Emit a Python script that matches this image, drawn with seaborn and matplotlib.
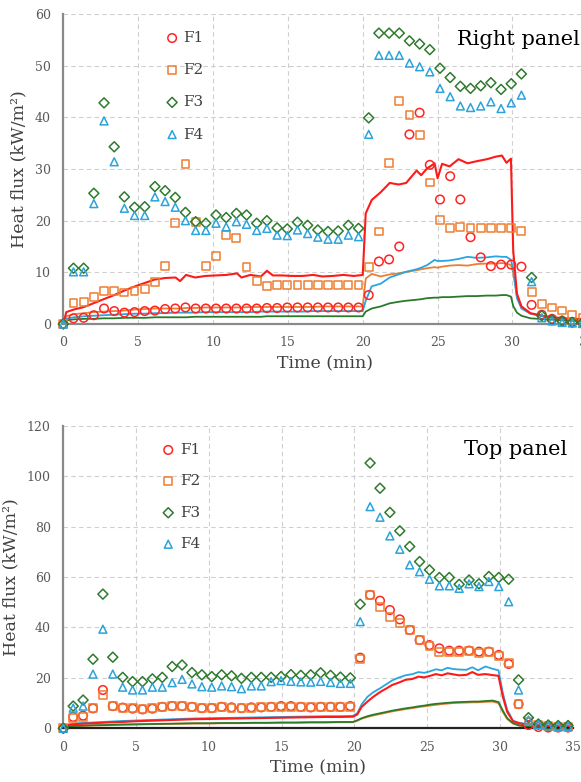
import numpy as np
import pandas as pd
import matplotlib
matplotlib.use("Agg")
import matplotlib.pyplot as plt
import seaborn as sns

# ---------------- data ----------------
sensors = ["F1", "F2", "F3", "F4"]

marker_time = [0.00, 0.68, 1.36, 2.04, 2.72, 3.40, 4.08, 4.76, 5.44, 6.12,
               6.80, 7.48, 8.16, 8.84, 9.52, 10.20, 10.88, 11.56, 12.24, 12.92,
               13.60, 14.28, 14.96, 15.64, 16.32, 17.00, 17.68, 18.36, 19.04, 19.72,
               20.40, 21.08, 21.76, 22.44, 23.12, 23.80, 24.48, 25.16, 25.84, 26.52,
               27.20, 27.88, 28.56, 29.24, 29.92, 30.60, 31.28, 31.96, 32.64, 33.32,
               34.00, 34.68]

# Right panel - markers
right_f1 = [0, 1.1, 1.2, 1.7, 3.0, 2.5, 2.2, 2.3, 2.5, 2.6,
            2.9, 3.0, 3.2, 3.0, 3.0, 3.0, 3.0, 3.0, 3.0, 3.0,
            3.1, 3.1, 3.2, 3.2, 3.2, 3.2, 3.2, 3.2, 3.2, 3.2,
            5.6, 12.1, 12.5, 15.0, 36.7, 40.9, 30.8, 24.1, 28.6, 24.1,
            16.8, 12.9, 11.2, 11.5, 11.5, 11.1, 3.7, 1.8, 1.0, 0.6,
            0.4, 0.3]
right_f2 = [0, 4.0, 4.2, 5.3, 6.4, 6.4, 6.1, 6.4, 6.8, 8.1,
            11.3, 19.5, 30.9, 19.8, 11.2, 13.2, 17.3, 16.7, 11.1, 8.4,
            7.3, 7.5, 7.5, 7.5, 7.5, 7.5, 7.5, 7.5, 7.5, 7.5,
            11.0, 17.9, 31.2, 43.1, 40.4, 36.5, 27.4, 20.1, 18.6, 18.7,
            18.6, 18.6, 18.6, 18.5, 18.6, 18.0, 6.2, 3.9, 3.2, 2.6,
            1.7, 1.2]
right_f3 = [0, 10.8, 10.8, 25.3, 42.8, 34.3, 24.6, 22.6, 22.7, 26.6,
            25.8, 24.5, 21.6, 19.8, 19.5, 21.1, 20.6, 21.4, 21.1, 19.5,
            20.0, 18.6, 18.4, 19.7, 19.1, 18.2, 17.9, 18.0, 19.1, 18.5,
            39.9, 56.3, 56.3, 56.3, 54.8, 54.2, 53.1, 49.5, 47.7, 46.0,
            45.6, 46.1, 46.7, 45.4, 46.5, 48.4, 9.0, 1.6, 0.8, 0.6,
            0.3, 0.2]
right_f4 = [0, 10.1, 10.1, 23.3, 39.3, 31.4, 22.4, 21.0, 21.0, 24.6,
            23.7, 22.6, 20.0, 18.1, 18.1, 19.5, 18.8, 19.8, 19.3, 18.1,
            18.5, 17.2, 17.1, 18.2, 17.5, 16.8, 16.4, 16.4, 17.2, 16.9,
            36.7, 52.0, 52.0, 52.0, 50.5, 49.8, 48.8, 45.6, 44.0, 42.2,
            41.9, 42.2, 43.0, 41.7, 42.8, 44.3, 8.2, 1.2, 0.6, 0.3,
            0.2, 0.1]

# Right panel - continuous lines
right_line_time = [0, 0.2, 0.7, 1.4, 2.0, 2.7, 3.4, 4.1, 4.8, 5.5,
                   6.1, 6.8, 7.5, 7.8, 8.2, 8.8, 9.5, 10.2, 10.9, 11.6,
                   11.9, 12.5, 13.2, 13.6, 14.0, 14.6, 15.3, 16.0, 16.7, 17.3,
                   18.0, 18.7, 19.4, 20.0, 20.2, 20.6, 21.2, 21.8, 22.4, 22.9,
                   23.6, 23.9, 24.3, 24.8, 25.0, 25.3, 25.8, 26.4, 27.0, 27.6,
                   28.3, 28.9, 29.3, 29.6, 29.9, 30.05, 30.3, 30.6, 31.2, 32.3,
                   33.5, 35.0]
right_line_f1 = [0, 2.3, 2.8, 3.3, 4.0, 4.8, 5.6, 6.5, 7.3, 8.0,
                 8.6, 8.9, 9.0, 8.3, 9.5, 9.0, 9.3, 9.4, 9.5, 9.8,
                 9.0, 9.5, 9.2, 10.3, 9.4, 9.4, 9.3, 9.3, 9.5, 9.2,
                 9.3, 9.5, 9.3, 9.5, 21.4, 24.0, 25.5, 27.3, 27.0, 27.3,
                 29.7, 28.8, 30.1, 31.1, 28.2, 31.0, 30.5, 31.9, 31.1, 31.5,
                 31.9, 32.4, 32.6, 31.2, 32.0, 14.3, 5.9, 3.4, 2.1, 1.4,
                 1.1, 0.9]
right_line_f2 = [0, 1.5, 1.9, 2.1, 2.3, 2.4, 2.5, 2.6, 2.8, 2.9,
                 3.0, 3.0, 3.0, 3.0, 3.1, 3.1, 3.2, 3.2, 3.2, 3.2,
                 3.2, 3.3, 3.3, 3.3, 3.3, 3.3, 3.3, 3.3, 3.3, 3.4,
                 3.4, 3.4, 3.4, 3.4, 8.8, 9.7, 9.2, 9.6, 9.8, 10.1,
                 10.4, 10.6, 10.8, 11.0, 10.9, 11.1, 11.3, 11.4, 11.3, 11.6,
                 11.7, 11.7, 11.8, 11.7, 11.4, 10.0, 5.5, 3.3, 2.0, 1.4,
                 1.0, 0.8]
right_line_f3 = [0, 0.7, 0.9, 1.0, 1.0, 1.1, 1.1, 1.2, 1.2, 1.2,
                 1.3, 1.3, 1.3, 1.3, 1.3, 1.4, 1.4, 1.4, 1.4, 1.4,
                 1.4, 1.4, 1.4, 1.5, 1.5, 1.5, 1.5, 1.5, 1.5, 1.5,
                 1.5, 1.5, 1.5, 1.5, 2.4, 3.0, 3.4, 4.0, 4.3, 4.5,
                 4.7, 4.8, 5.0, 5.1, 5.1, 5.2, 5.2, 5.3, 5.4, 5.4,
                 5.5, 5.5, 5.6, 5.6, 5.3, 3.5, 2.2, 1.6, 1.1, 0.9,
                 0.7, 0.5]
right_line_f4 = [0, 1.0, 1.3, 1.5, 1.6, 1.7, 1.8, 1.9, 2.0, 2.0,
                 2.1, 2.1, 2.2, 2.2, 2.2, 2.2, 2.3, 2.3, 2.3, 2.3,
                 2.3, 2.3, 2.4, 2.4, 2.4, 2.4, 2.4, 2.4, 2.5, 2.5,
                 2.5, 2.5, 2.5, 2.5, 4.5, 7.3, 7.8, 9.0, 9.6, 10.1,
                 10.6, 10.9, 11.4, 12.4, 12.2, 12.2, 12.3, 12.6, 13.0, 12.8,
                 12.9, 13.1, 13.0, 13.0, 12.4, 10.5, 5.0, 3.0, 2.0, 1.4,
                 1.0, 0.8]

# Top panel - markers
top_f1 = [0, 4.5, 5.0, 7.9, 15.2, 8.8, 8.2, 7.8, 7.5, 7.8,
          8.5, 8.8, 8.8, 8.5, 8.0, 8.0, 8.5, 8.3, 8.0, 8.3,
          8.3, 8.5, 8.8, 8.8, 8.5, 8.3, 8.5, 8.5, 8.5, 8.8,
          28.0, 52.9, 50.6, 46.9, 43.2, 39.0, 35.0, 33.0, 31.7, 30.8,
          30.8, 30.8, 30.4, 30.4, 29.1, 25.5, 9.6, 1.3, 0.5, 0.3,
          0.3, 0.3]
top_f2 = [0, 4.2, 4.5, 7.9, 13.2, 8.8, 8.2, 7.9, 7.6, 7.9,
          8.5, 8.8, 8.7, 8.4, 8.0, 7.9, 8.4, 8.2, 7.9, 8.2,
          8.3, 8.5, 8.6, 8.6, 8.4, 8.3, 8.5, 8.4, 8.5, 8.6,
          27.5, 52.9, 48.0, 44.3, 41.7, 39.0, 35.0, 32.6, 30.4, 30.4,
          30.4, 30.8, 29.8, 30.1, 28.8, 25.8, 9.6, 2.7, 1.3, 0.8,
          0.5, 0.5]
top_f3 = [0, 8.8, 11.2, 27.4, 53.2, 28.2, 20.2, 18.5, 18.5, 19.6,
          20.2, 24.5, 25.1, 22.1, 21.2, 20.5, 21.2, 20.8, 19.8, 20.2,
          20.2, 20.2, 20.5, 21.3, 21.0, 21.2, 22.0, 21.0, 20.3, 20.0,
          49.2, 105.2, 95.2, 85.6, 78.3, 72.1, 66.1, 62.8, 59.8, 59.8,
          57.1, 58.8, 57.3, 60.2, 59.8, 59.1, 19.2, 4.2, 1.7, 1.3,
          1.1, 1.1]
top_f4 = [0, 8.0, 8.8, 21.5, 39.3, 21.5, 16.3, 15.2, 15.2, 16.3,
          16.3, 18.1, 19.4, 17.6, 16.5, 16.3, 16.8, 16.5, 15.7, 16.8,
          16.8, 18.5, 18.9, 18.6, 18.4, 18.3, 18.6, 18.2, 17.8, 17.8,
          42.3, 87.9, 83.7, 76.3, 71.0, 64.8, 62.1, 59.1, 56.5, 56.5,
          55.5, 57.3, 56.2, 58.2, 56.2, 50.2, 15.2, 3.3, 1.5, 1.0,
          0.8, 0.8]

# Top panel - continuous lines
top_line_time = [0, 0.3, 1.0, 2.0, 3.0, 4.0, 5.0, 6.0, 7.0, 8.0,
                 9.0, 10.0, 11.0, 12.0, 13.0, 14.0, 15.0, 16.0, 17.0, 18.0,
                 19.0, 19.9, 20.2, 20.5, 20.9, 21.3, 21.8, 22.2, 22.6, 23.0,
                 23.5, 24.0, 24.4, 24.8, 25.2, 25.6, 26.0, 26.4, 26.8, 27.2,
                 27.7, 28.1, 28.5, 29.0, 29.5, 29.9, 30.2, 30.5, 30.9, 31.3,
                 31.8, 32.5, 33.5, 35.0]
top_line_f1 = [0, 1.3, 1.7, 2.0, 2.3, 2.5, 2.8, 3.0, 3.2, 3.4,
               3.6, 3.7, 3.8, 3.9, 4.0, 4.1, 4.2, 4.3, 4.4, 4.5,
               4.5, 4.6, 5.5, 8.5, 10.6, 12.5, 14.5, 15.8, 17.2, 18.0,
               19.2, 19.6, 20.5, 20.2, 20.8, 21.5, 21.0, 21.8, 21.4, 21.0,
               21.2, 22.3, 21.2, 21.5, 21.1, 20.8, 12.5, 6.5, 2.8, 2.0,
               1.5, 1.2, 0.9, 0.7]
top_line_f2 = [0, 0.7, 0.9, 1.1, 1.2, 1.4, 1.5, 1.6, 1.7, 1.8,
               1.9, 1.9, 2.0, 2.0, 2.1, 2.1, 2.2, 2.2, 2.3, 2.3,
               2.4, 2.4, 3.0, 3.8, 4.5, 5.1, 5.7, 6.2, 6.7, 7.1,
               7.6, 8.0, 8.4, 8.7, 9.0, 9.3, 9.6, 9.8, 10.0, 10.1,
               10.2, 10.3, 10.3, 10.5, 10.6, 10.0, 6.5, 3.7, 1.9, 1.1,
               0.7, 0.5, 0.4, 0.3]
top_line_f3 = [0, 0.8, 1.0, 1.2, 1.3, 1.5, 1.6, 1.7, 1.8, 1.9,
               2.0, 2.0, 2.1, 2.1, 2.2, 2.2, 2.3, 2.3, 2.4, 2.4,
               2.5, 2.5, 3.2, 4.0, 4.8, 5.4, 6.0, 6.5, 7.0, 7.4,
               7.9, 8.3, 8.7, 9.0, 9.4, 9.7, 9.9, 10.1, 10.3, 10.4,
               10.5, 10.6, 10.6, 10.8, 11.0, 10.4, 7.0, 4.0, 2.0, 1.2,
               0.8, 0.6, 0.5, 0.4]
top_line_f4 = [0, 1.5, 2.0, 2.3, 2.6, 2.9, 3.1, 3.3, 3.5, 3.7,
               3.9, 4.0, 4.1, 4.2, 4.3, 4.4, 4.5, 4.6, 4.7, 4.8,
               4.8, 4.9, 6.0, 9.5, 12.5, 14.3, 16.0, 17.5, 19.0, 20.0,
               21.0, 21.5, 22.3, 22.0, 22.6, 23.4, 23.0, 24.0, 23.5, 23.3,
               23.2, 24.2, 23.0, 24.5, 23.6, 23.0, 14.0, 7.3, 3.0, 2.2,
               1.7, 1.3, 1.0, 0.8]

x_ticks = [0, 5, 10, 15, 20, 25, 30, 35]
right_y_ticks = [0, 10, 20, 30, 40, 50, 60]
top_y_ticks = [0, 20, 40, 60, 80, 100, 120]

# ---------------- styling ----------------
sns.set_theme(style="white")
plt.rcParams["font.family"] = ["DejaVu Serif", "DejaVu Sans"]

mark_col = {"F1": "#FF2323", "F2": "#ED7D31", "F3": "#2E7A2E", "F4": "#2BA3DB"}
line_col = {"F1": "#FF1A1A", "F2": "#ED7D31", "F3": "#2A7A2A", "F4": "#2AA5E0"}
mark_shape = {"F1": "o", "F2": "s", "F3": "D", "F4": "^"}
mark_size = {"F1": 38, "F2": 32, "F3": 26, "F4": 32}

W, H = 581, 782
fig = plt.figure(figsize=(W / 100, H / 100), dpi=100)
fig.patch.set_facecolor("white")
ax_r = fig.add_axes([63.3 / W, 1 - 324 / H, 524 / W, 310 / H])
ax_t = fig.add_axes([63.3 / W, 1 - 728.3 / H, 509.4 / W, 302.6 / H])


def draw_panel(ax, ltime, lines, marks, yticks, title, title_xy, leg_anchor, leg_space,
               bottom_spine_col):
    for s in ["F2", "F3", "F4", "F1"]:
        dfl = pd.DataFrame({"time": ltime, "flux": lines[s]})
        sns.lineplot(data=dfl, x="time", y="flux", ax=ax, color=line_col[s],
                     lw=1.5 if s == "F1" else 1.3, zorder=2, estimator=None, sort=False)
    for s in sensors:
        dfm = pd.DataFrame({"time": marker_time, "flux": marks[s]})
        sns.scatterplot(data=dfm, x="time", y="flux", ax=ax, marker=mark_shape[s],
                        s=mark_size[s], facecolor="none", edgecolor=mark_col[s],
                        linewidth=1.1, zorder=3, clip_on=False, label=s)
    ax.set_xlim(0, 35)
    ax.set_ylim(yticks[0], yticks[-1])
    ax.set_xticks(x_ticks)
    ax.set_yticks(yticks)
    ax.grid(True, color="#cfcfcf", linestyle=(0, (4, 3)), linewidth=0.8, zorder=0)
    ax.set_axisbelow(True)
    for sp in ["top", "right"]:
        ax.spines[sp].set_visible(False)
    ax.spines["left"].set_color("#8a8a8a")
    ax.spines["left"].set_linewidth(1.6)
    ax.spines["bottom"].set_color(bottom_spine_col)
    ax.spines["bottom"].set_linewidth(1.6)
    ax.tick_params(axis="both", length=0, pad=9, labelsize=9, labelcolor="#595959")
    ax.set_xlabel("Time (min)", fontsize=12.5, color="#404040", labelpad=4)
    ax.set_ylabel("Heat flux (kW/m²)", fontsize=12.5, color="#404040", labelpad=5)
    ax.text(title_xy[0], title_xy[1], title, transform=ax.transAxes, ha="right",
            va="baseline", fontsize=15, color="black")
    leg = ax.legend(loc="upper left", bbox_to_anchor=leg_anchor, frameon=False,
                    fontsize=11, handlelength=0.8, handletextpad=0.35,
                    labelspacing=leg_space, borderpad=0, borderaxespad=0,
                    scatterpoints=1)
    for t in leg.get_texts():
        t.set_color("#404040")


draw_panel(ax_r, right_line_time,
           {"F1": right_line_f1, "F2": right_line_f2, "F3": right_line_f3, "F4": right_line_f4},
           {"F1": right_f1, "F2": right_f2, "F3": right_f3, "F4": right_f4},
           right_y_ticks, "Right panel", (0.985, 0.90), (0.196, 0.945), 1.19, "#8a8a8a")

draw_panel(ax_t, top_line_time,
           {"F1": top_line_f1, "F2": top_line_f2, "F3": top_line_f3, "F4": top_line_f4},
           {"F1": top_f1, "F2": top_f2, "F3": top_f3, "F4": top_f4},
           top_y_ticks, "Top panel", (0.989, 0.903), (0.194, 0.943), 1.14, "#222222")

fig.savefig("out.png", dpi=100, facecolor="white")
